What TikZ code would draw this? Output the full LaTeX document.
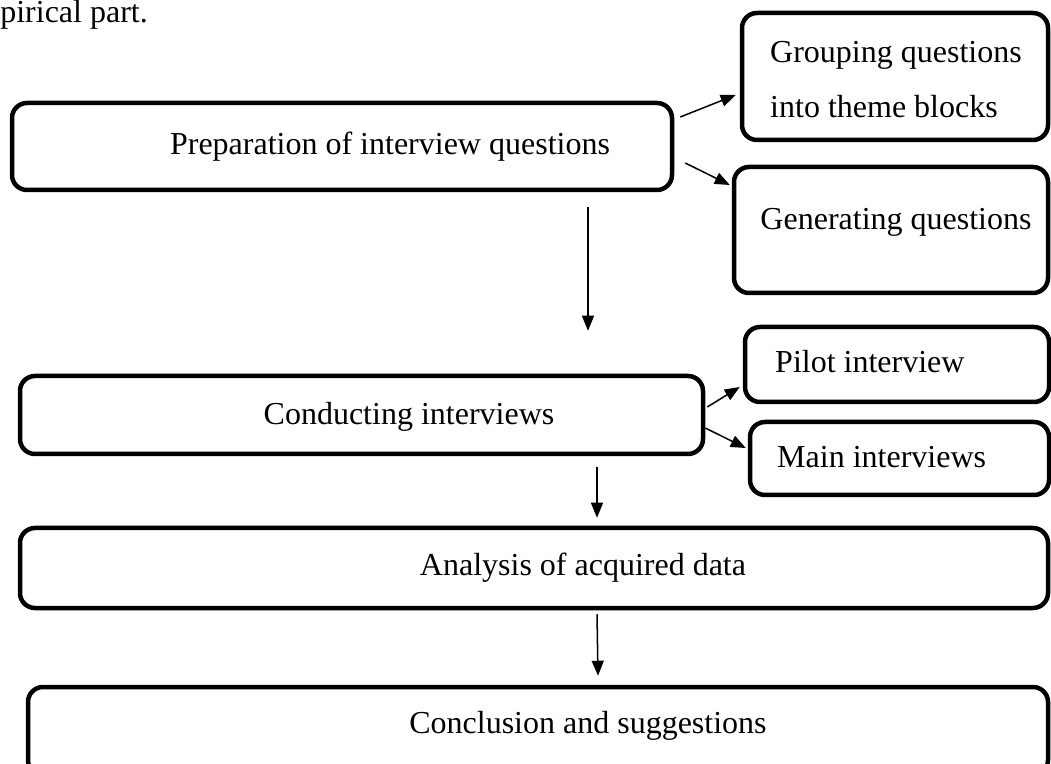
\documentclass[tikz,border=0pt]{standalone}
\usepackage{fontspec}
\setmainfont{Liberation Serif}
\usetikzlibrary{arrows.meta}

\tikzset{
  box/.style={draw,line width=4.5pt,rounded corners=15pt,inner sep=0pt},
  txt/.style={inner sep=0pt,anchor=base,font=\fontsize{32}{38}\selectfont},
  arr/.style={line width=1.5pt,-{Triangle[length=15pt,width=12pt]}}
}

\begin{document}
\begin{tikzpicture}[x=1pt,y=1pt]

\useasboundingbox (0,0) rectangle (1051,763);

\node[txt,anchor=base east] (intro) at (148,740) {empirical part.};

\node[box,minimum width=660pt,minimum height=87pt] (prep) at (342,616.5) {};
\node[box,minimum width=306pt,minimum height=127pt] (group) at (895,686.5) {};
\node[box,minimum width=314pt,minimum height=126pt] (gen) at (891,533) {};
\node[box,minimum width=683pt,minimum height=78pt] (cond) at (361.5,348) {};
\node[box,minimum width=304pt,minimum height=75pt] (pilot) at (897,398.5) {};
\node[box,minimum width=299pt,minimum height=73pt] (main) at (899.5,304.5) {};
\node[box,minimum width=1028pt,minimum height=80pt] (anal) at (534,195) {};
\node[box,minimum width=1020pt,minimum height=88pt] (concl) at (538,32) {};

\node[txt] (preptxt) at (390,608) {Preparation of interview questions};
\node[txt,anchor=base west] (grouptxta) at (770,700) {Grouping questions};
\node[txt,anchor=base west] (grouptxtb) at (770,645) {into theme blocks};
\node[txt] (gentxt) at (896,533) {Generating questions};
\node[txt] (condtxt) at (409,338) {Conducting interviews};
\node[txt,anchor=base west] (pilottxt) at (775,390) {Pilot interview};
\node[txt,anchor=base west] (maintxt) at (777,295) {Main interviews};
\node[txt] (analtxt) at (583,188) {Analysis of acquired data};
\node[txt] (concltxt) at (588,30) {Conclusion and suggestions};

\draw[arr] ([shift={(6,29.5)}]prep.east) -- ([shift={(-4,-18.5)}]group.west);
\draw[arr] ([shift={(11,-16.5)}]prep.east) -- ([shift={(-2,45)}]gen.west);
\draw[arr] ([shift={(246,-15)}]prep.south) -- ([shift={(226.5,43)}]cond.north);

\draw[arr] ([shift={(2,8)}]cond.east) -- ([shift={(-3,-22.5)}]pilot.west);
\draw[arr] ([shift={(0,-13)}]cond.east) -- ([shift={(-2,10.5)}]main.west);
\draw[arr] ([shift={(235.5,-11)}]cond.south) -- ([shift={(63,8)}]anal.north);

\draw[arr] ([shift={(63,-4)}]anal.south) -- ([shift={(60,9)}]concl.north);

\end{tikzpicture}
\end{document}
